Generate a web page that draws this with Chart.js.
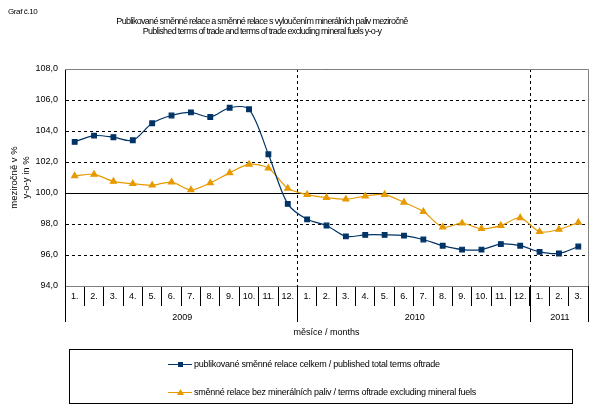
<!DOCTYPE html>
<html>
<head>
<meta charset="utf-8">
<script src="https://cdn.jsdelivr.net/npm/chart.js@4/dist/chart.umd.min.js"></script>
<style>
  body { margin: 0; background: #fff; }
  #wrap { width: 601px; height: 412px; }
</style>
</head>
<body>
<div id="wrap"><canvas id="grafChart" width="601" height="412"></canvas></div>
<script>
// Data
const months = ['1.', '2.', '3.', '4.', '5.', '6.', '7.', '8.', '9.', '10.', '11.', '12.',
                '1.', '2.', '3.', '4.', '5.', '6.', '7.', '8.', '9.', '10.', '11.', '12.',
                '1.', '2.', '3.'];
const years = ['2009', '2010', '2011'];
const yearStarts = [0, 12, 24]; // index of first month of each year
const totalTerms = [103.3, 103.7, 103.6, 103.4, 104.5, 105.0, 105.2, 104.9, 105.5, 105.4, 102.5, 99.3,
                    98.3, 97.9, 97.2, 97.3, 97.3, 97.25, 97.0, 96.6, 96.35, 96.35, 96.7, 96.6,
                    96.2, 96.1, 96.55];
const exclFuels = [101.1, 101.2, 100.75, 100.6, 100.5, 100.7, 100.2, 100.65, 101.3, 101.85, 101.6, 100.3,
                   99.9, 99.7, 99.6, 99.8, 99.9, 99.4, 98.8, 97.8, 98.05, 97.7, 97.9, 98.4,
                   97.5, 97.65, 98.1];

const FONT = '"Liberation Sans", Arial, sans-serif';
const BLUE = '#003366';
const ORANGE = '#E69A00';

// extra drawing: titles, year row, solid lines, legend box
const extras = {
    id: 'extras',
    beforeDatasetsDraw(chart) {
        const ctx = chart.ctx;
        const x = chart.scales.x, y = chart.scales.y;
        const a = chart.chartArea;
        ctx.save();
        // year boundary dashed lines inside plot
        ctx.strokeStyle = '#000';
        ctx.lineWidth = 1;
        ctx.setLineDash([3, 3]);
        for (let i = 1; i < yearStarts.length; i++) {
            const px = Math.round(x.getPixelForValue(yearStarts[i]) - x.width / months.length / 2) + 0.5;
            ctx.beginPath(); ctx.moveTo(px, a.top); ctx.lineTo(px, a.bottom); ctx.stroke();
        }
        ctx.setLineDash([]);
        // gray plot border top/right
        ctx.strokeStyle = '#808080';
        ctx.beginPath();
        ctx.moveTo(a.left, Math.round(a.top) + 0.5);
        ctx.lineTo(Math.round(a.right) + 0.5, Math.round(a.top) + 0.5);
        ctx.lineTo(Math.round(a.right) + 0.5, a.bottom);
        ctx.stroke();
        // solid line at 100
        ctx.strokeStyle = '#000';
        const p100 = Math.round(y.getPixelForValue(100)) + 0.5;
        ctx.beginPath(); ctx.moveTo(a.left, p100); ctx.lineTo(a.right, p100); ctx.stroke();
        ctx.restore();
    },
    afterDraw(chart) {
        const ctx = chart.ctx;
        const x = chart.scales.x;
        const a = chart.chartArea;
        const step = x.width / months.length;
        ctx.save();
        ctx.fillStyle = '#000';
        ctx.strokeStyle = '#000';
        ctx.lineWidth = 1;

        // titles
        ctx.textBaseline = 'middle';
        ctx.textAlign = 'left';
        ctx.font = '8px ' + FONT;
        ctx.letterSpacing = '-0.4px';
        ctx.fillText('Graf č.10', 8, 12);
        ctx.font = '9px ' + FONT;
        ctx.letterSpacing = '-0.7px';
        ctx.textAlign = 'center';
        ctx.fillText('Publikované směnné relace a směnné relace s vyloučením minerálních paliv meziročně', 262, 22);
        ctx.fillText('Published terms of trade and terms of trade excluding mineral fuels y-o-y', 262, 32);
        ctx.letterSpacing = '0px';

        // year row
        const bounds = yearStarts.concat([months.length]);
        ctx.font = '9px ' + FONT;
        for (let i = 0; i < bounds.length; i++) {
            const px = Math.round(x.getPixelForValue(Math.min(bounds[i], months.length - 1)) +
                (bounds[i] === months.length ? step / 2 : -step / 2)) + 0.5;
            ctx.beginPath(); ctx.moveTo(px, a.bottom); ctx.lineTo(px, a.bottom + 36); ctx.stroke();
        }
        for (let i = 0; i < years.length; i++) {
            const x0 = x.getPixelForValue(bounds[i]);
            const x1 = x.getPixelForValue(bounds[i + 1] - 1);
            ctx.fillText(years[i], (x0 + x1) / 2 + 1, a.bottom + 32);
        }

        // legend box
        ctx.strokeRect(69.5, 349.5, 503, 54);
        ctx.font = '9px ' + FONT;
        ctx.letterSpacing = '-0.25px';
        ctx.textAlign = 'left';
        const rows = [364, 392];
        chart.data.datasets.forEach((ds, i) => {
            const ly = rows[i] + 0.5;
            ctx.strokeStyle = ds.borderColor;
            ctx.beginPath(); ctx.moveTo(168, ly); ctx.lineTo(192, ly); ctx.stroke();
            ctx.fillStyle = ds.pointBackgroundColor;
            if (ds.pointStyle === 'rect') {
                ctx.fillRect(178, rows[i] - 2, 5, 5);
            } else {
                ctx.beginPath();
                ctx.moveTo(180.5, rows[i] - 3); ctx.lineTo(184, rows[i] + 3); ctx.lineTo(177, rows[i] + 3);
                ctx.closePath(); ctx.fill();
            }
            ctx.fillStyle = '#000';
            ctx.fillText(ds.label, 194, rows[i] + 1);
        });
        ctx.restore();
    }
};

new Chart(document.getElementById('grafChart'), {
    type: 'line',
    data: {
        labels: months,
        datasets: [{
            label: 'publikované směnné relace celkem / published total terms oftrade',
            data: totalTerms,
            borderColor: BLUE,
            backgroundColor: BLUE,
            pointBackgroundColor: BLUE,
            pointBorderColor: BLUE,
            pointStyle: 'rect',
            pointRadius: 3.3,
            borderWidth: 1.2,
            tension: 0.3
        }, {
            label: 'směnné relace bez minerálních paliv / terms oftrade excluding mineral fuels',
            data: exclFuels,
            borderColor: ORANGE,
            backgroundColor: ORANGE,
            pointBackgroundColor: ORANGE,
            pointBorderColor: ORANGE,
            pointStyle: 'triangle',
            pointRadius: 3.5,
            borderWidth: 1.2,
            tension: 0.3
        }]
    },
    options: {
        responsive: false,
        animation: false,
        layout: { padding: { top: 69, right: 13, bottom: 74, left: 0 } },
        plugins: {
            legend: { display: false },
            tooltip: { enabled: false }
        },
        scales: {
            x: {
                offset: true,
                grid: { offset: true, drawOnChartArea: false, drawTicks: true, tickLength: 20, color: '#000' },
                border: { display: true, color: '#808080' },
                ticks: { color: '#000', font: { family: FONT, size: 9 }, padding: -15, maxRotation: 0, autoSkip: false },
                title: { display: true, text: 'měsíce / months', color: '#000', font: { family: FONT, size: 9 }, padding: { top: 0, bottom: 0 } },
                afterFit(scale) { scale.height = 52; }
            },
            y: {
                min: 94,
                max: 108,
                ticks: {
                    stepSize: 2,
                    color: '#000',
                    padding: 7,
                    font: { family: FONT, size: 9 },
                    callback: v => v.toFixed(1).replace('.', ',')
                },
                grid: { color: '#000', drawTicks: false },
                border: { display: true, color: '#000', dash: [3, 3] },
                title: { display: true, text: ['meziročně v %', 'y-o-y in %'], color: '#000', font: { family: FONT, size: 9.5 }, padding: { top: 9, bottom: 0 } },
                afterFit(scale) { scale.width = 65; }
            }
        }
    },
    plugins: [extras]
});
</script>
</body>
</html>
